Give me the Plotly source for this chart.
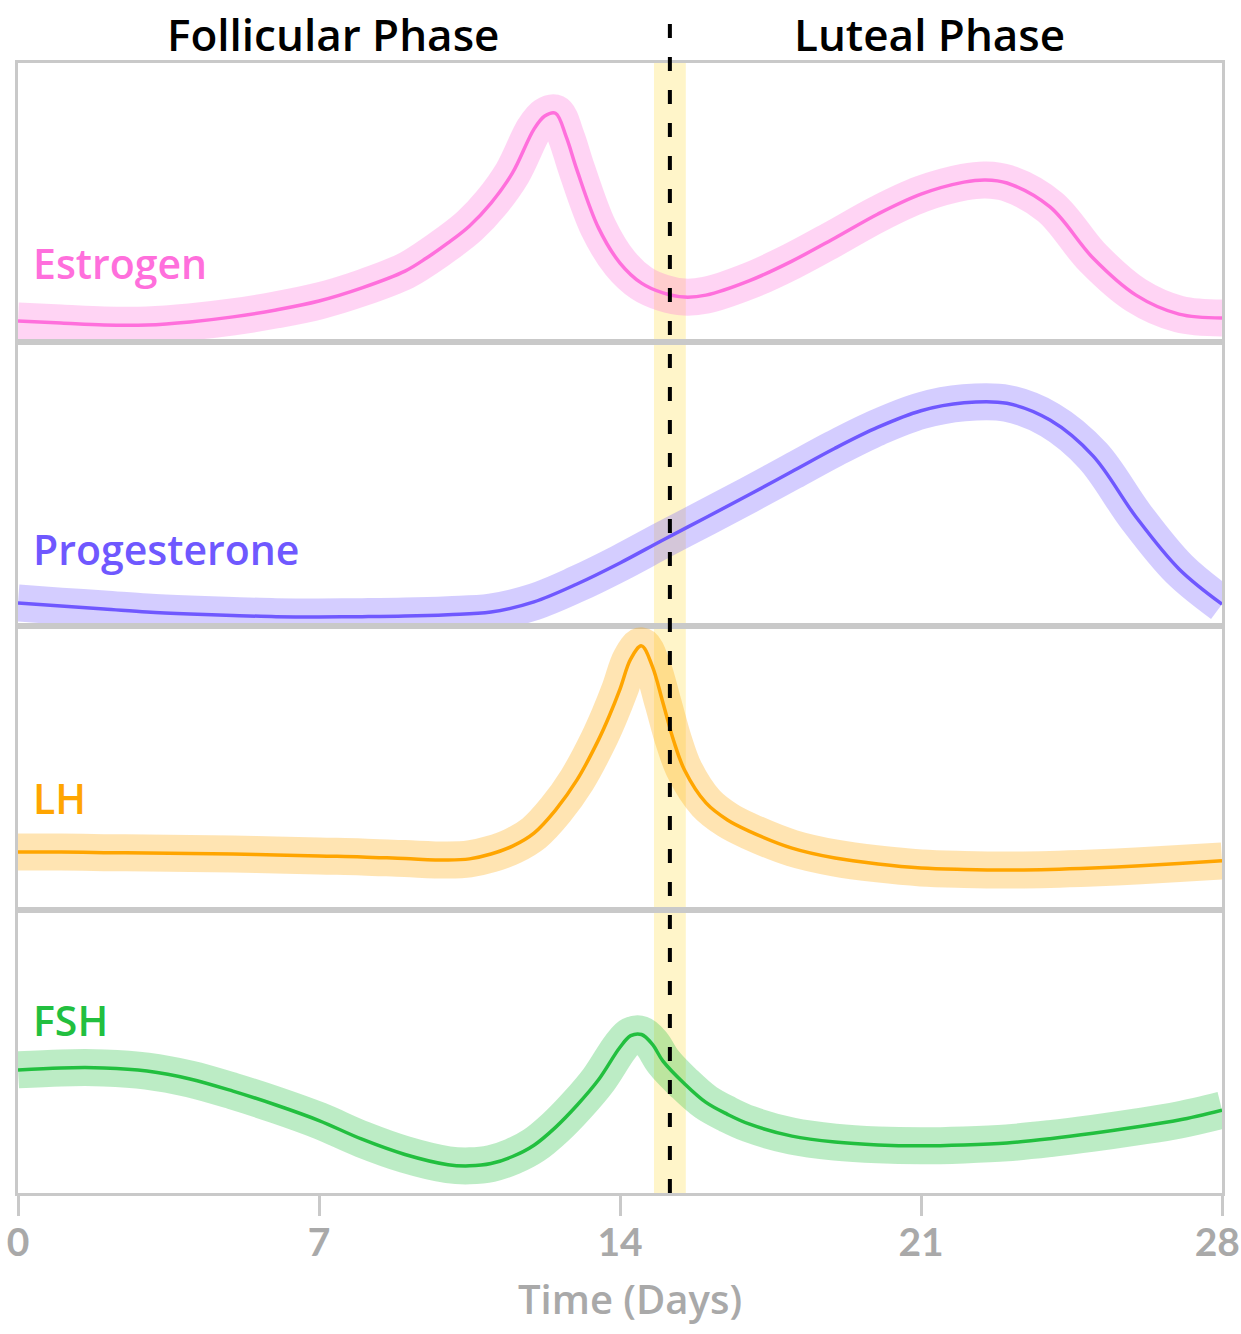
import plotly.graph_objects as go

# ---------------- data (relative level, % of panel height) ----------------
estrogen_days = [0, 1, 2, 3, 4, 5, 6, 7, 8, 9, 9.5, 10, 10.5, 11, 11.5, 12, 12.25, 12.5, 12.75, 13,
                 13.5, 14, 14.5, 15, 15.5, 16, 17, 18, 19, 20, 21, 22, 22.5, 23, 24, 25, 26, 27, 28]
estrogen = [7.5, 6.8, 6.1, 6.1, 7.2, 9.0, 11.5, 14.7, 19.4, 25.4, 30.1, 35.5, 41.6, 49.8, 60.6, 76.3,
            81.0, 82.0, 73.5, 61.6, 40.9, 28.3, 21.1, 17.6, 16.1, 16.8, 21.9, 29.0, 37.3, 45.9, 53.0,
            57.3, 58.1, 57.0, 48.4, 30.1, 16.8, 10.0, 8.6]

progesterone_days = list(range(0, 29))
progesterone = [8.1, 7.0, 6.0, 4.9, 4.2, 3.7, 3.3, 3.2, 3.3, 3.5, 4.0, 4.9, 8.5, 14.8, 22.2, 30.3,
                38.2, 46.2, 54.4, 62.6, 70.0, 75.8, 78.6, 78.4, 72.5, 59.9, 38.4, 20.1, 7.7]

lh_days = [0, 1, 2, 3, 4, 5, 6, 7, 8, 9, 10, 10.5, 11, 11.5, 12, 12.5, 13, 13.5, 13.75, 14, 14.25,
           14.5, 14.75, 15, 15.25, 15.5, 16, 16.5, 17, 18, 19, 20, 21, 22, 23, 24, 25, 26, 27, 28]
lh = [20.4, 20.4, 20.2, 20.1, 19.9, 19.7, 19.4, 19.0, 18.7, 18.1, 17.6, 18.0, 19.7, 22.5, 27.1, 35.2,
      45.8, 59.9, 68.3, 77.8, 88.4, 93.0, 85.9, 72.9, 59.5, 49.3, 37.7, 31.7, 27.8, 21.8, 18.3,
      16.2, 14.8, 14.3, 14.1, 14.3, 14.8, 15.5, 16.4, 17.3]

fsh_days = [0, 1, 2, 3, 4, 5, 6, 7, 8, 9, 10, 10.5, 11, 11.5, 12, 12.5, 13, 13.5, 14, 14.25, 14.5,
            14.75, 15, 15.5, 16, 16.5, 17, 18, 19, 20, 21, 22, 23, 24, 25, 26, 27, 28]
fsh = [43.5, 44.2, 44.2, 43.1, 40.3, 36.0, 31.1, 25.6, 19.0, 13.6, 10.0, 9.6, 10.4, 12.9, 16.9, 23.2,
       31.0, 40.0, 51.5, 55.6, 56.0, 52.6, 46.6, 38.6, 32.0, 27.8, 24.4, 20.1, 18.0, 17.0, 16.7,
       17.0, 17.7, 19.2, 21.1, 23.3, 25.8, 29.3]

hormone_names = ["Estrogen", "Progesterone", "LH", "FSH"]
hormone_days = [estrogen_days, progesterone_days, lh_days, fsh_days]
hormone_values = [estrogen, progesterone, lh, fsh]
label_levels = [28.2, 27.2, 39.5, 61.2]

tick_vals = [0, 7, 14, 21, 28]
tick_text = ["0", "7", "14", "21", "28\u00a0"]
x_title = "Time (Days)"

ovulation_day = 15.16
ovulation_window = [14.79, 15.53]
phase_names = ["Follicular Phase", "Luteal Phase"]

# ---------------- styles ----------------
line_colors = ["#FF6FDC", "#6F58FF", "#FFA500", "#22BF3F"]
band_colors = ["rgba(255,111,220,0.3)", "rgba(111,88,255,0.3)",
               "rgba(255,165,0,0.3)", "rgba(34,191,63,0.3)"]
TEXT_FONT = "Open Sans"
TICK_FONT = "Lato"
GRAY_LINE = "#C9C9C9"
GRAY_TEXT = "#A9A9A9"

W, H = 1241, 1334
plot_left, plot_right, plot_top, plot_bottom = 18, 1222, 8, 1193
ML, MR, MT, MB = plot_left, W - plot_right, plot_top, H - plot_bottom
plot_h = plot_bottom - plot_top
plot_w = plot_right - plot_left
panel_px = [63, 342, 626, 910, 1193]
to_paper_y = lambda py: (plot_bottom - py) / plot_h
to_paper_x = lambda px: (px - plot_left) / plot_w
domains = [[to_paper_y(panel_px[i + 1]), to_paper_y(panel_px[i])] for i in range(4)]

fig = go.Figure()
layout = dict(
    width=W, height=H, autosize=False,
    margin=dict(l=ML, r=MR, t=MT, b=MB, pad=0, autoexpand=False),
    paper_bgcolor="white", plot_bgcolor="rgba(0,0,0,0)",
    showlegend=False,
    font=dict(family=TEXT_FONT),
)

annotations = []
for i in range(4):
    sfx = "" if i == 0 else str(i + 1)
    xa, ya = "x" + sfx, "y" + sfx
    fig.add_trace(go.Scatter(
        x=hormone_days[i], y=hormone_values[i], xaxis=xa, yaxis=ya, mode="lines",
        line=dict(color=band_colors[i], width=37, shape="spline", smoothing=1.0),
        hoverinfo="skip"))
    fig.add_trace(go.Scatter(
        x=hormone_days[i], y=hormone_values[i], xaxis=xa, yaxis=ya, mode="lines",
        line=dict(color=line_colors[i], width=3.5, shape="spline", smoothing=1.0),
        name=hormone_names[i]))
    xdict = dict(domain=[0, 1], anchor=ya, range=[0, 28], showline=True, mirror=True,
                 linecolor=GRAY_LINE, linewidth=3, showgrid=False, zeroline=False,
                 showticklabels=False, ticks="", fixedrange=True, automargin=False)
    if i > 0:
        xdict["matches"] = "x"
    if i == 3:
        xdict.update(ticks="outside", ticklen=20, tickwidth=3, tickcolor=GRAY_LINE,
                     tickvals=tick_vals, ticktext=tick_text, showticklabels=True,
                     ticklabeloverflow="allow", ticklabelstandoff=-7,
                     tickfont=dict(family=TICK_FONT, size=39, color=GRAY_TEXT, weight="bold"))
    layout["xaxis" + sfx] = xdict
    layout["yaxis" + sfx] = dict(domain=domains[i], anchor=xa, range=[0, 100], showline=True,
                                 mirror=True, linecolor=GRAY_LINE, linewidth=3, showgrid=False,
                                 zeroline=False, showticklabels=False, ticks="", fixedrange=True,
                                 automargin=False)
    annotations.append(dict(
        x=0.3, y=label_levels[i], xref=xa, yref=ya, text=hormone_names[i], showarrow=False,
        xanchor="left", yanchor="middle",
        font=dict(family=TEXT_FONT, size=41, color=line_colors[i], weight=600)))

for name, cx in zip(phase_names, [333, 929]):
    annotations.append(dict(x=to_paper_x(cx), y=to_paper_y(34), xref="paper", yref="paper",
                            text=name, showarrow=False, xanchor="center", yanchor="middle",
                            font=dict(family=TEXT_FONT, size=44, color="black", weight=600)))

annotations.append(dict(x=to_paper_x(630), y=to_paper_y(1298), xref="paper", yref="paper",
                        text=x_title, showarrow=False, xanchor="center", yanchor="middle",
                        font=dict(family=TEXT_FONT, size=40, color=GRAY_TEXT, weight=600)))

shapes = [
    dict(type="rect", xref="x", yref="paper", x0=ovulation_window[0], x1=ovulation_window[1],
         y0=0, y1=domains[0][1], fillcolor="#FFF5C9", line=dict(width=0), layer="below"),
    dict(type="line", xref="x", yref="paper", x0=ovulation_day, x1=ovulation_day,
         y0=0, y1=1, line=dict(color="black", width=4, dash="14px,19px"), layer="above"),
]

layout["annotations"] = annotations
layout["shapes"] = shapes
fig.update_layout(**layout)
fig.write_html("out.html",
               config={"displayModeBar": False, "responsive": False},
               post_script="document.body.style.margin='0px';"
                           "document.body.style.overflow='hidden';")
